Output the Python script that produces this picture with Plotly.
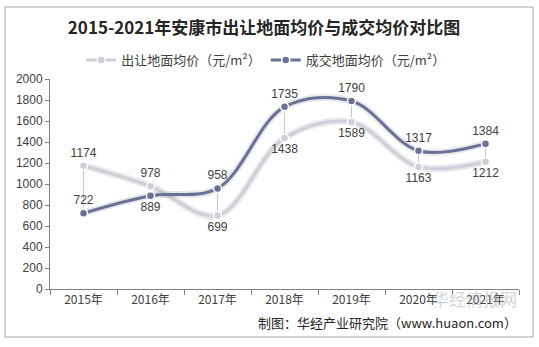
import plotly.graph_objects as go

years = ["2015年", "2016年", "2017年", "2018年", "2019年", "2020年", "2021年"]
supply_price = [1174, 978, 699, 1438, 1589, 1163, 1212]
deal_price = [722, 889, 958, 1735, 1790, 1317, 1384]
supply_pos = ["top center", "top center", "bottom center", "bottom center", "bottom center", "bottom center", "bottom center"]
deal_pos = ["top center", "bottom center", "top center", "top center", "top center", "top center", "top center"]
yticks = [0, 200, 400, 600, 800, 1000, 1200, 1400, 1600, 1800, 2000]

light = "#CFCFD9"
dark = "#6A7096"
txt = "#404040"
font = "Noto Sans CJK SC"

fig = go.Figure()

# high-low lines
hx, hy = [], []
for c, a, b in zip(years, supply_price, deal_price):
    hx += [c, c, None]
    hy += [a, b, None]
fig.add_trace(go.Scatter(x=hx, y=hy, mode="lines", line=dict(color="#C8C8C8", width=1),
                         showlegend=False, hoverinfo="skip"))

for name, vals, col, pos in [("出让地面均价（元/m²）", supply_price, light, supply_pos),
                             ("成交地面均价（元/m²）", deal_price, dark, deal_pos)]:
    # shadow
    fig.add_trace(go.Scatter(x=years, y=vals, mode="lines",
                             line=dict(color="rgba(120,120,130,0.16)", width=7, shape="spline", smoothing=1.0),
                             showlegend=False, hoverinfo="skip"))
    fig.add_trace(go.Scatter(x=years, y=vals, mode="lines+markers+text", name=name,
                             line=dict(color=col, width=3, shape="spline", smoothing=1.0),
                             marker=dict(size=8, color=col, line=dict(color="white", width=1.5)),
                             text=[str(v) for v in vals], textposition=pos,
                             textfont=dict(size=12, color=txt, family="Liberation Sans, Arial")))

fig.update_layout(
    width=539, height=347,
    margin=dict(l=50, r=20, t=79, b=58),
    paper_bgcolor="white", plot_bgcolor="white",
    font=dict(family=font, color=txt),
    title=dict(text="<b>2015-2021年安康市出让地面均价与成交均价对比图</b>", x=0.49, xanchor="center",
               y=1 - 28 / 347, yref="container", yanchor="middle", font=dict(size=17, color="#262626", family=font)),
    legend=dict(orientation="h", x=0.46, xanchor="center", y=1.09, yanchor="middle",
                font=dict(size=13, color=txt, family=font), itemwidth=30, tracegroupgap=0),
    showlegend=True,
)
fig.update_xaxes(showline=True, linecolor="#7F7F7F", ticks="outside", tickson="boundaries",
                 ticklen=5, tickcolor="#7F7F7F", tickfont=dict(size=12, color=txt, family=font),
                 showgrid=False, range=[-0.5, 6.5])
fig.update_yaxes(range=[0, 2000], tickvals=yticks, showline=True, linecolor="#7F7F7F",
                 ticks="outside", ticklen=4, tickcolor="#7F7F7F", showgrid=False, zeroline=False,
                 tickfont=dict(size=12, color=txt, family="Liberation Sans, Arial"))

fig.add_shape(type="rect", xref="paper", yref="paper", x0=-45/469, x1=1+14/469, y0=-48/210, y1=1+72/210,
              line=dict(color="#A6A6A6", width=1), fillcolor="rgba(0,0,0,0)")
fig.add_annotation(text="华经情报网", xref="paper", yref="paper", x=1.0, y=-0.045, xanchor="right",
                   yanchor="middle", showarrow=False,
                   font=dict(size=17, color="rgba(170,170,170,0.5)", family=font))
fig.add_annotation(text="制图：华经产业研究院（www.huaon.com）", xref="paper", yref="paper",
                   x=1.0, y=-0.16, xanchor="right", yanchor="middle", showarrow=False,
                   font=dict(size=13, color="#262626", family=font))

fig.write_html("out.html")
